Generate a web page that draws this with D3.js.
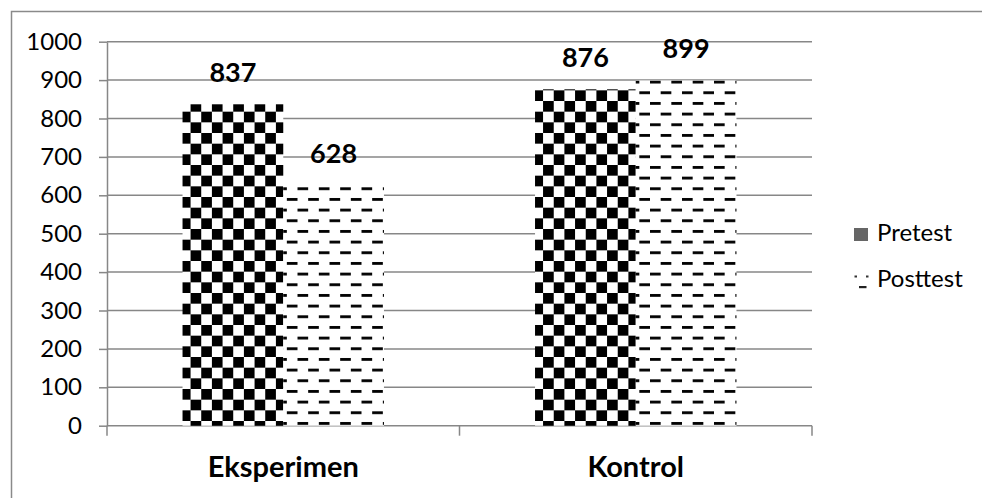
<!DOCTYPE html>
<html>
<head>
<meta charset="utf-8">
<script src="https://cdn.jsdelivr.net/npm/d3@7"></script>
<style>
  html, body { margin: 0; padding: 0; background: #fff; }
  svg { display: block; }
  text { font-family: Lato, "Open Sans", sans-serif; fill: #000; }
</style>
</head>
<body>
<svg id="chart" width="982" height="498"></svg>
<script>
// Scores per group
const categories = ["Eksperimen", "Kontrol"];
const seriesNames = ["Pretest", "Posttest"];
const pretest = [837, 876];
const posttest = [628, 899];
const yTicks = [0, 100, 200, 300, 400, 500, 600, 700, 800, 900, 1000];

const plot = { left: 107, right: 812, top: 41.7, bottom: 425.7 };
const gridColor = "#878787";

const svg = d3.select("#chart");
const defs = svg.append("defs");

// Checkerboard fill (Pretest)
const cell = 32 / 3;
const chk = defs.append("pattern")
  .attr("id", "checker").attr("patternUnits", "userSpaceOnUse")
  .attr("x", 8.03).attr("y", 15.67)
  .attr("width", cell * 2).attr("height", cell * 2);
chk.append("rect").attr("width", cell * 2).attr("height", cell * 2).attr("fill", "#fff");
chk.append("rect").attr("x", 0).attr("y", 0).attr("width", cell).attr("height", cell).attr("fill", "#000");
chk.append("rect").attr("x", cell).attr("y", cell).attr("width", cell).attr("height", cell).attr("fill", "#000");

// Staggered dash fill (Posttest)
const dsh = defs.append("pattern")
  .attr("id", "dashes").attr("patternUnits", "userSpaceOnUse")
  .attr("x", 8.3).attr("y", 15.67)
  .attr("width", cell * 2).attr("height", cell * 2);
dsh.append("rect").attr("width", cell * 2).attr("height", cell * 2).attr("fill", "#fff");
dsh.append("rect").attr("x", 0).attr("y", 1.0).attr("width", cell).attr("height", 2.8).attr("fill", "#000");
dsh.append("rect").attr("x", cell).attr("y", 1.0 + cell).attr("width", cell).attr("height", 2.8).attr("fill", "#000");

// Outer chart frame
svg.append("rect")
  .attr("x", 11.5).attr("y", 11.5).attr("width", 1000).attr("height", 600)
  .attr("fill", "none").attr("stroke", "#8a8a8a").attr("stroke-width", 1.5);

// Scales
const y = d3.scaleLinear().domain([0, 1000]).range([plot.bottom, plot.top]);
const x0 = d3.scaleBand().domain(categories).range([plot.left, plot.right])
  .paddingInner(3 / 7).paddingOuter(1.5 / 7);
const x1 = d3.scaleBand().domain(seriesNames).range([0, x0.bandwidth()]);
const fills = { Pretest: "url(#checker)", Posttest: "url(#dashes)" };

// Horizontal gridlines
svg.append("g").selectAll("line").data(yTicks).join("line")
  .attr("x1", plot.left).attr("x2", plot.right)
  .attr("y1", d => y(d)).attr("y2", d => y(d))
  .attr("stroke", gridColor).attr("stroke-width", 1.5);

// Value axis
const yAxis = svg.append("g")
  .attr("transform", `translate(${plot.left},0)`)
  .call(d3.axisLeft(y).tickValues(yTicks).tickFormat(d3.format("d"))
    .tickSize(8).tickPadding(17).tickSizeOuter(0));
yAxis.select(".domain").attr("stroke", gridColor).attr("stroke-width", 1.5);
yAxis.selectAll(".tick line").attr("stroke", gridColor).attr("stroke-width", 1.5);
yAxis.selectAll(".tick text")
  .style("font-family", "Lato, sans-serif").style("font-size", "24px").attr("fill", "#000");

// Category axis ticks at band boundaries
const bounds = [plot.left, ...categories.slice(1).map(c => x0(c) - x0.step() * x0.paddingInner() / 2), plot.right];
svg.append("g").selectAll("line").data(bounds).join("line")
  .attr("x1", d => d).attr("x2", d => d)
  .attr("y1", plot.bottom).attr("y2", plot.bottom + 10)
  .attr("stroke", gridColor).attr("stroke-width", 1.5);

// Bars
const rows = categories.map((c, i) => ({ cat: c, values: [
  { key: "Pretest", value: pretest[i] },
  { key: "Posttest", value: posttest[i] }
] }));

const groups = svg.append("g").selectAll("g").data(rows).join("g")
  .attr("transform", d => `translate(${x0(d.cat)},0)`);

groups.selectAll("rect").data(d => d.values).join("rect")
  .attr("x", d => x1(d.key))
  .attr("width", x1.bandwidth())
  .attr("y", d => y(d.value))
  .attr("height", d => y(0) - y(d.value))
  .attr("fill", d => fills[d.key]);

// Value labels
groups.selectAll("text").data(d => d.values).join("text")
  .attr("x", d => x1(d.key) + x1.bandwidth() / 2)
  .attr("y", d => y(d.value) - 22)
  .attr("text-anchor", "middle")
  .style("font-size", "27px").style("font-weight", "bold")
  .text(d => d.value);

// Category labels
svg.append("g").selectAll("text").data(categories).join("text")
  .attr("x", d => x0(d) + x0.bandwidth() / 2)
  .attr("y", 477)
  .attr("text-anchor", "middle")
  .style("font-size", "29px").style("font-weight", "bold")
  .text(d => d);

// Legend
const legend = svg.append("g");
legend.append("rect").attr("x", 854).attr("y", 228).attr("width", 14).attr("height", 13).attr("fill", "#666");
legend.append("text").attr("x", 877).attr("y", 241).style("font-size", "24px").text(seriesNames[0]);
const lp = legend.append("g");
lp.append("rect").attr("x", 854.5).attr("y", 275.5).attr("width", 2.5).attr("height", 2).attr("fill", "#333");
lp.append("rect").attr("x", 866).attr("y", 275.5).attr("width", 2.5).attr("height", 2).attr("fill", "#333");
lp.append("rect").attr("x", 859).attr("y", 286).attr("width", 7.5).attr("height", 2.2).attr("fill", "#222");
legend.append("text").attr("x", 877).attr("y", 287).style("font-size", "24px").text(seriesNames[1]);
</script>
</body>
</html>
